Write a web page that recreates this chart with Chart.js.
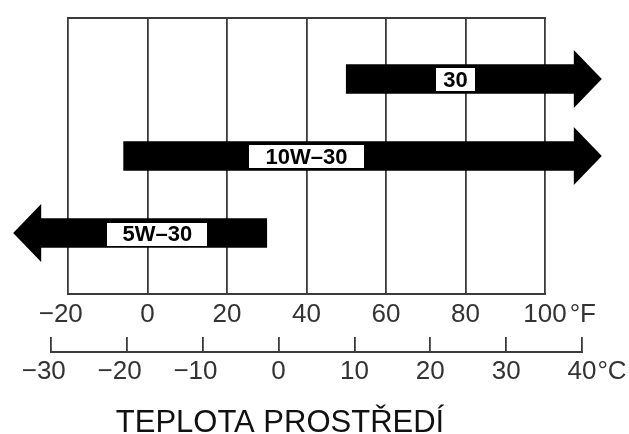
<!DOCTYPE html>
<html>
<head>
<meta charset="utf-8">
<script src="https://cdn.jsdelivr.net/npm/chart.js@4.4.1/dist/chart.umd.min.js"></script>
<style>
html,body{margin:0;padding:0;background:#fff;}
#wrap{width:629px;height:434px;position:relative;}
</style>
</head>
<body>
<div id="wrap"><canvas id="c"></canvas></div>
<script>
// ---- data ----
const fTicks = [-20, 0, 20, 40, 60, 80, 100];          // °F scale
const cTicks = [-30, -20, -10, 0, 10, 20, 30, 40];     // °C scale
const grades = ['30', '10W–30', '5W–30'];
const gradeRow = [3, 2, 1];                              // row of each arrow, top to bottom
const fromF = [50, -6, -27];                             // arrow body start (°F)
const toF = [107.5, 107.5, 30];                          // arrow body end (°F)
const arrowDir = ['right', 'right', 'left'];
const labelAtF = [77.5, 40, 2.5];                        // where the grade label sits (°F)
const titleText = 'TEPLOTA PROSTŘEDÍ';

const FONT = "'Liberation Sans', Arial, Helvetica, sans-serif";
const TICK_SIZE = 26;
const LINE = '#3a3a3a';

function fmt(v) {
  return v < 0 ? '\u2212' + Math.abs(v) + '\u00A0\u00A0' : String(v);
}

const style = {
  headLen: 27, headHalf: 29,
  boxW: [39, 115, 100], boxH: 23,
  fPad: 5, cTick: 15, cPad: 4
};

const oilPlugin = {
  id: 'oil',
  afterDatasetsDraw(chart) {
    const {ctx, scales} = chart;
    const meta = chart.getDatasetMeta(0);
    ctx.save();
    meta.data.forEach((el, i) => {
      const p = el.getProps(['x', 'base', 'y', 'height'], true);
      ctx.fillStyle = '#000';
      ctx.beginPath();
      if (arrowDir[i] === 'right') {
        const e = Math.max(p.x, p.base);
        ctx.moveTo(e - 1, p.y - style.headHalf);
        ctx.lineTo(e + style.headLen, p.y);
        ctx.lineTo(e - 1, p.y + style.headHalf);
      } else {
        const e = Math.min(p.x, p.base);
        ctx.moveTo(e + 1, p.y - style.headHalf);
        ctx.lineTo(e - style.headLen, p.y);
        ctx.lineTo(e + 1, p.y + style.headHalf);
      }
      ctx.closePath();
      ctx.fill();
      const lx = scales.x.getPixelForValue(labelAtF[i]);
      const w = style.boxW[i];
      ctx.fillStyle = '#fff';
      ctx.fillRect(Math.round(lx - w / 2), Math.round(p.y - style.boxH / 2 + 1), w, style.boxH);
      ctx.fillStyle = '#000';
      ctx.font = 'bold 22px ' + FONT;
      ctx.textAlign = 'center';
      ctx.textBaseline = 'middle';
      ctx.fillText(grades[i], lx, p.y + 2);
    });
    ctx.restore();
  },
  afterDraw(chart) {
    const {ctx, chartArea, scales} = chart;
    const fx = scales.x, cx = scales.c;
    ctx.save();
    ctx.strokeStyle = LINE;
    ctx.lineWidth = 2;
    ctx.lineCap = 'square';
    const x0 = fx.getPixelForValue(fTicks[0]);
    const x1 = fx.getPixelForValue(fTicks[fTicks.length - 1]);
    ctx.beginPath();
    ctx.moveTo(x0, chartArea.top); ctx.lineTo(x1, chartArea.top);
    ctx.moveTo(x0, chartArea.bottom); ctx.lineTo(x1, chartArea.bottom);
    const cy = cx.top + style.cTick;
    ctx.moveTo(cx.getPixelForValue(cTicks[0]), cy);
    ctx.lineTo(cx.getPixelForValue(cTicks[cTicks.length - 1]), cy);
    ctx.stroke();

    // units
    ctx.fillStyle = '#333';
    ctx.font = TICK_SIZE + 'px ' + FONT;
    ctx.textAlign = 'left';
    ctx.textBaseline = 'middle';
    const lh = TICK_SIZE * 1.2 / 2;
    const lastF = fTicks[fTicks.length - 1];
    ctx.fillText('°F', x1 + ctx.measureText(fmt(lastF)).width / 2 + 3, fx.top + style.fPad + lh);
    const lastC = cTicks[cTicks.length - 1];
    ctx.fillText('°C', cx.getPixelForValue(lastC) + ctx.measureText(fmt(lastC)).width / 2 + 1, cx.top + style.cTick + style.cPad + lh);

    // title
    ctx.fillStyle = '#111';
    ctx.font = '31px ' + FONT;
    ctx.textAlign = 'center';
    ctx.textBaseline = 'alphabetic';
    ctx.fillText(titleText, 280, 432);
    ctx.restore();
  }
};

new Chart(document.getElementById('c'), {
  type: 'bar',
  data: {
    datasets: [{
      data: grades.map((g, i) => ({x: [fromF[i], toF[i]], y: gradeRow[i]})),
      backgroundColor: '#000',
      borderWidth: 0,
      barThickness: 29,
      xAxisID: 'x',
      yAxisID: 'y'
    }]
  },
  options: {
    indexAxis: 'y',
    responsive: true,
    maintainAspectRatio: false,
    animation: false,
    layout: {padding: {left: 12, right: 9, top: 18, bottom: 47}},
    plugins: {legend: {display: false}, tooltip: {enabled: false}, title: {display: false}},
    scales: {
      x: {
        type: 'linear', position: 'bottom',
        min: -34.088, max: 118.868,
        afterBuildTicks: s => { s.ticks = fTicks.map(v => ({value: v})); },
        afterFit: s => { s.height = 43; s.paddingLeft = 0; s.paddingRight = 0; },
        grid: {drawOnChartArea: true, drawTicks: false, color: LINE, lineWidth: 1.8},
        border: {display: false},
        ticks: {autoSkip: false, maxRotation: 0, padding: style.fPad, color: '#333',
                font: {family: FONT, size: TICK_SIZE}, callback: v => fmt(v)}
      },
      c: {
        type: 'linear', axis: 'x', position: 'bottom',
        min: -35.141, max: 45.009,
        afterBuildTicks: s => { s.ticks = cTicks.map(v => ({value: v})); },
        afterFit: s => { s.height = 50; s.paddingLeft = 0; s.paddingRight = 0; },
        grid: {drawOnChartArea: false, drawTicks: true, tickLength: style.cTick, color: LINE, lineWidth: 1.8},
        border: {display: false},
        ticks: {autoSkip: false, maxRotation: 0, padding: style.cPad, color: '#333',
                font: {family: FONT, size: TICK_SIZE}, callback: v => fmt(v)}
      },
      y: {type: 'linear', display: false, offset: false, min: 0.208, max: 3.792}
    }
  },
  plugins: [oilPlugin]
});
</script>
</body>
</html>
